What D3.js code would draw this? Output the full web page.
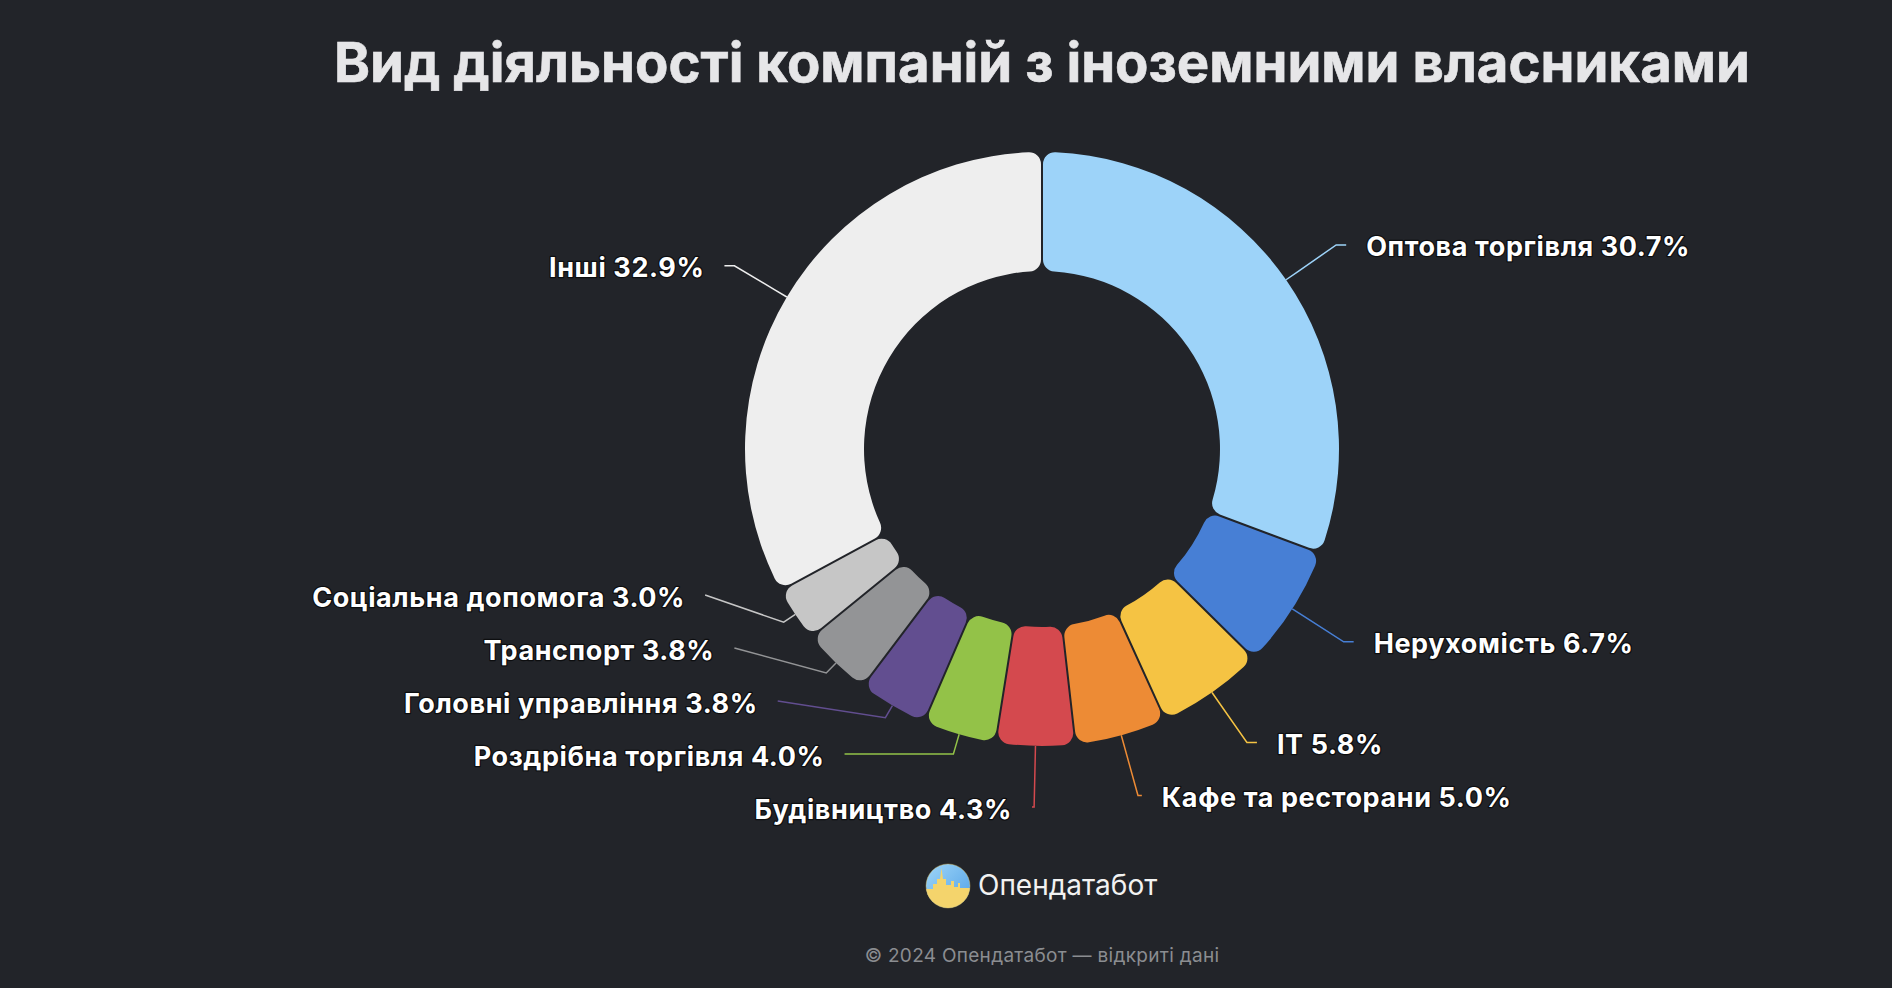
<!DOCTYPE html>
<html><head><meta charset="utf-8">
<script src="https://cdn.jsdelivr.net/npm/d3@7"></script>
<style>
html,body{margin:0;padding:0;background:#222429;}
svg{display:block;}
</style></head><body>
<svg id="chart" width="1892" height="988"></svg>
<script>
const titleText = "Вид діяльності компаній з іноземними власниками";
const categories = ["Оптова торгівля","Нерухомість","IT","Кафе та ресторани","Будівництво","Роздрібна торгівля","Головні управління","Транспорт","Соціальна допомога","Інші"];
const values = [30.7, 6.7, 5.8, 5.0, 4.3, 4.0, 3.8, 3.8, 3.0, 32.9];
const colors = ["#9dd3f9","#477fd5","#f5c343","#ed8b35","#d4494e","#93c248","#624e90","#939496","#c6c6c6","#eeeeee"];
const brandText = "Опендатабот";
const footerText = "© 2024 Опендатабот — відкриті дані";

const W = 1892, H = 988;
const cx = 1042, cy = 449, outerR = 297, innerR = 178;
const labelDist = 61, connOffset = 14, labelPad = 10, textGap = 20, slot = 53;
const bg = "#222429";

const svg = d3.select("#chart");
svg.append("rect").attr("width", W).attr("height", H).attr("fill", bg);

svg.append("text")
  .attr("x", cx).attr("y", 82).attr("text-anchor", "middle")
  .attr("font-family", "Inter, 'Noto Sans', sans-serif").attr("font-weight", 700)
  .attr("font-size", 54.5).attr("fill", "#e6e6e8")
  .attr("stroke", "#e6e6e8").attr("stroke-width", 0.6)
  .text(titleText);

const data = categories.map((c, i) => ({ name: c, value: values[i], color: colors[i] }));
const pie = d3.pie().sort(null).value(d => d.value).startAngle(0).endAngle(2 * Math.PI);
const arcs = pie(data);
const arc = d3.arc().innerRadius(innerR).outerRadius(outerR).cornerRadius(12)
  .padAngle(2 / Math.hypot(innerR, outerR));

const g = svg.append("g").attr("transform", `translate(${cx},${cy})`);
g.selectAll("path.slice").data(arcs).join("path")
  .attr("class", "slice")
  .attr("d", arc)
  .attr("fill", d => d.data.color);

// label layout (natural position on label circle, then resolve overlaps per side)
const RL = outerR + labelDist;
const items = arcs.map(a => {
  const t = (a.startAngle + a.endAngle) / 2;
  const dir = Math.sin(t) >= 0 ? 1 : -1;
  return { a, t, dir, ny: cy - RL * Math.cos(t), y: cy - RL * Math.cos(t) };
});
[1, -1].forEach(dir => {
  const side = items.filter(d => d.dir === dir).sort((p, q) => p.ny - q.ny);
  const top = cy - RL, bot = cy + RL;
  for (let i = 0; i < side.length; i++) {
    side[i].y = Math.max(side[i].ny, top);
    if (i > 0) side[i].y = Math.max(side[i].y, side[i - 1].y + slot);
  }
  for (let i = side.length - 1; i >= 0; i--) {
    side[i].y = Math.min(side[i].y, bot);
    if (i < side.length - 1) side[i].y = Math.min(side[i].y, side[i + 1].y - slot);
  }
});

const lg = svg.append("g");
items.forEach(d => {
  const { t, dir, y } = d;
  const dy = y - cy;
  const xConn = cx + dir * (Math.sqrt(Math.max(0, RL * RL - dy * dy)) + labelPad);
  const bx = cx + (outerR + connOffset) * Math.sin(t), byy = cy - (outerR + connOffset) * Math.cos(t);
  const tx = cx + outerR * Math.sin(t), ty = cy - outerR * Math.cos(t);
  const crookX = cx - dy * Math.tan(t);
  const pts = [[xConn, y]];
  if (dir === 1 ? (crookX <= xConn && crookX >= bx) : (crookX >= xConn && crookX <= bx)) pts.push([crookX, y]);
  pts.push([bx, byy], [tx, ty]);
  lg.append("path")
    .attr("d", d3.line()(pts))
    .attr("fill", "none").attr("stroke", d.a.data.color).attr("stroke-width", 1.5);
  lg.append("text")
    .attr("x", xConn + dir * textGap).attr("y", y + 11.5)
    .attr("text-anchor", dir === 1 ? "start" : "end")
    .attr("font-family", "Inter, 'Noto Sans', sans-serif").attr("font-weight", 700)
    .attr("font-size", 27).attr("letter-spacing", 0.6).attr("fill", "#ffffff")
    .attr("stroke", "#0d0e10").attr("stroke-width", 2.5).attr("stroke-linejoin", "round")
    .attr("paint-order", "stroke")
    .text(`${d.a.data.name} ${d.a.data.value.toFixed(1)}%`);
});

// brand logo
const logo = svg.append("g").attr("transform", "translate(948,886)");
const defs = svg.append("defs");
defs.append("clipPath").attr("id", "logoClip").append("circle").attr("r", 22);
const grad = defs.append("linearGradient").attr("id", "sky").attr("x1", 0).attr("y1", 0).attr("x2", 1).attr("y2", 1);
grad.append("stop").attr("offset", "0%").attr("stop-color", "#9fd6f8");
grad.append("stop").attr("offset", "100%").attr("stop-color", "#4f9fe6");
const lc = logo.append("g").attr("clip-path", "url(#logoClip)");
lc.append("rect").attr("x", -22).attr("y", -22).attr("width", 44).attr("height", 44).attr("fill", "url(#sky)");
lc.append("path")
  .attr("d", "M-22,3 L-15,3 L-15,-2 L-11,-2 L-11,-7 L-8,-7 L-6.5,-18 L-5,-7 L-2,-7 L-2,-1 L3,-1 L3,-5 L6,-5 L6,1 L10,1 L10,-3 L12,-3 L12,2 L22,2 L22,22 L-22,22 Z")
  .attr("fill", "#f4d46c");
logo.append("circle").attr("r", 22).attr("fill", "none").attr("stroke", "#e9c35a").attr("stroke-opacity", 0.4);

svg.append("text")
  .attr("x", 978).attr("y", 895)
  .attr("font-family", "Inter, 'Noto Sans', sans-serif").attr("font-weight", 400)
  .attr("font-size", 28).attr("fill", "#f2f2f2")
  .text(brandText);

svg.append("text")
  .attr("x", cx).attr("y", 962).attr("text-anchor", "middle")
  .attr("font-family", "Inter, 'Noto Sans', sans-serif").attr("font-weight", 400)
  .attr("font-size", 19).attr("letter-spacing", 0.3).attr("fill", "#8b8d91")
  .text(footerText);
</script>
</body></html>
